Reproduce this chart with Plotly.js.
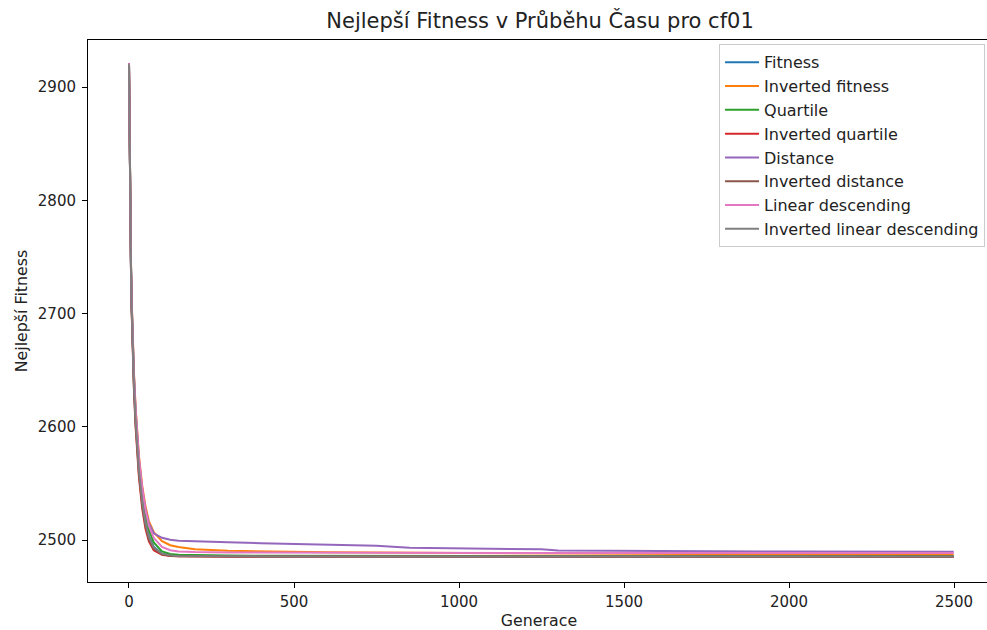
<!DOCTYPE html>
<html>
<head>
<meta charset="utf-8">
<script src="https://cdn.plot.ly/plotly-3.0.1.min.js"></script>
<style>
html, body { margin: 0; padding: 0; overflow: hidden; background: #fff; }
#chart { width: 992px; height: 630px; }
</style>
</head>
<body>
<div id="chart"></div>
<script>
const generations = [0, 2, 4, 6, 8, 10, 15, 20, 25, 30, 40, 50, 60, 75, 100, 125, 150, 200, 300, 400, 500, 600, 750, 850, 1000, 1250, 1300, 1500, 1700, 2000, 2499];

const seriesNames = ["Fitness", "Inverted fitness", "Quartile", "Inverted quartile", "Distance", "Inverted distance", "Linear descending", "Inverted linear descending"];

const fitness = [2921, 2835, 2782, 2742, 2708, 2682, 2640, 2608, 2584, 2564, 2536, 2517, 2504, 2494, 2488, 2486.6, 2486.2, 2486, 2485.9, 2485.8, 2485.7, 2485.7, 2485.6, 2485.6, 2485.6, 2485.5, 2485.5, 2485.5, 2485.5, 2485.5, 2485.5];
const invertedFitness = [2921, 2838, 2786, 2747, 2714, 2689, 2648, 2618, 2594, 2575, 2548, 2530, 2517, 2507, 2499, 2495.5, 2494, 2492, 2490.5, 2490, 2489.5, 2489.2, 2489, 2488.8, 2488.5, 2488.2, 2488.1, 2488, 2487.7, 2487.4, 2487.1];
const quartile = [2921, 2836, 2784, 2744, 2710, 2685, 2643, 2612, 2588, 2568, 2541, 2522, 2509, 2498, 2490, 2487.8, 2487.1, 2486.7, 2486.4, 2486.2, 2486.1, 2486, 2486, 2485.9, 2485.9, 2485.8, 2485.8, 2485.8, 2485.7, 2485.7, 2485.7];
const invertedQuartile = [2921, 2833, 2779, 2738, 2703, 2676, 2633, 2600, 2575, 2556, 2528, 2510, 2499, 2491, 2487, 2486, 2485.7, 2485.5, 2485.4, 2485.4, 2485.3, 2485.3, 2485.3, 2485.3, 2485.3, 2485.3, 2485.3, 2485.3, 2485.3, 2485.3, 2485.3];
const distance = [2921, 2836, 2784, 2744, 2711, 2686, 2645, 2614, 2590, 2571, 2545, 2527, 2515, 2506, 2502, 2500.3, 2499.5, 2498.8, 2498, 2497.2, 2496.6, 2496, 2495, 2493.2, 2492.6, 2491.9, 2490.8, 2490.4, 2490, 2489.9, 2489.8];
const invertedDistance = [2921, 2834, 2780, 2739, 2705, 2678, 2635, 2603, 2578, 2559, 2531, 2513, 2501, 2492.5, 2487.5, 2486.2, 2485.8, 2485.6, 2485.5, 2485.5, 2485.4, 2485.4, 2485.4, 2485.4, 2485.4, 2485.4, 2485.4, 2485.4, 2485.4, 2485.4, 2485.4];
const linearDescending = [2921, 2837, 2785, 2745, 2712, 2687, 2646, 2616, 2592, 2573, 2546, 2527, 2513, 2502, 2494, 2491, 2490, 2489.4, 2489.1, 2489, 2488.9, 2488.9, 2488.8, 2488.8, 2488.7, 2488.7, 2488.6, 2488.6, 2488.6, 2488.5, 2488.5];
const invertedLinearDescending = [2920, 2835, 2782, 2741, 2707, 2680, 2638, 2606, 2581, 2562, 2534, 2515, 2503, 2493.5, 2488, 2486.5, 2486, 2485.8, 2485.7, 2485.6, 2485.6, 2485.5, 2485.5, 2485.5, 2485.5, 2485.5, 2485.5, 2485.5, 2485.5, 2485.5, 2485.5];

const seriesValues = [fitness, invertedFitness, quartile, invertedQuartile, distance, invertedDistance, linearDescending, invertedLinearDescending];
const colors = ["#1f77b4", "#ff7f0e", "#2ca02c", "#d62728", "#9467bd", "#8c564b", "#e377c2", "#7f7f7f"];

const font = "DejaVu Sans, sans-serif";
const txt = "#222";

const traces = seriesNames.map((name, i) => ({
  type: "scatter",
  mode: "lines",
  name: name,
  x: generations,
  y: seriesValues[i],
  line: { color: colors[i], width: 2 }
}));

const layout = {
  width: 992,
  height: 630,
  margin: { l: 88, r: 2, t: 40, b: 48 },
  paper_bgcolor: "#ffffff",
  plot_bgcolor: "#ffffff",
  font: { family: font, size: 15, color: txt },
  title: {
    text: "Nejlepší Fitness v Průběhu Času pro cf01",
    font: { family: font, size: 21, color: txt },
    x: 0.5444, xanchor: "center",
    y: 0.967, yanchor: "middle"
  },
  xaxis: {
    range: [-124.2, 2609],
    tickvals: [0, 500, 1000, 1500, 2000, 2500],
    ticktext: ["0", "500", "1000", "1500", "2000", "2500"],
    ticks: "outside", ticklen: 5, tickcolor: "#000", tickwidth: 1,
    ticklabelstandoff: 1,
    showline: true, linecolor: "#000", linewidth: 1, mirror: true,
    showgrid: false, zeroline: false,
    tickfont: { family: font, size: 15, color: txt },
    title: { text: "Generace", font: { family: font, size: 15.8, color: txt }, standoff: 4 }
  },
  yaxis: {
    range: [2463, 2941.5],
    tickvals: [2500, 2600, 2700, 2800, 2900],
    ticktext: ["2500", "2600", "2700", "2800", "2900"],
    ticks: "outside", ticklen: 5, tickcolor: "#000", tickwidth: 1,
    ticklabelstandoff: 3,
    showline: true, linecolor: "#000", linewidth: 1, mirror: true,
    showgrid: false, zeroline: false,
    tickfont: { family: font, size: 15, color: txt },
    title: { text: "Nejlepší Fitness", font: { family: font, size: 15.8, color: txt }, standoff: 6 }
  },
  showlegend: true,
  legend: {
    x: 0.9945, xanchor: "right",
    y: 0.992, yanchor: "top",
    bgcolor: "rgba(255,255,255,0.85)",
    bordercolor: "#cccccc", borderwidth: 1,
    font: { family: font, size: 16, color: txt },
    traceorder: "normal",
    itemwidth: 34
  }
};

Plotly.newPlot("chart", traces, layout, { displayModeBar: false, staticPlot: true });
</script>
</body>
</html>
